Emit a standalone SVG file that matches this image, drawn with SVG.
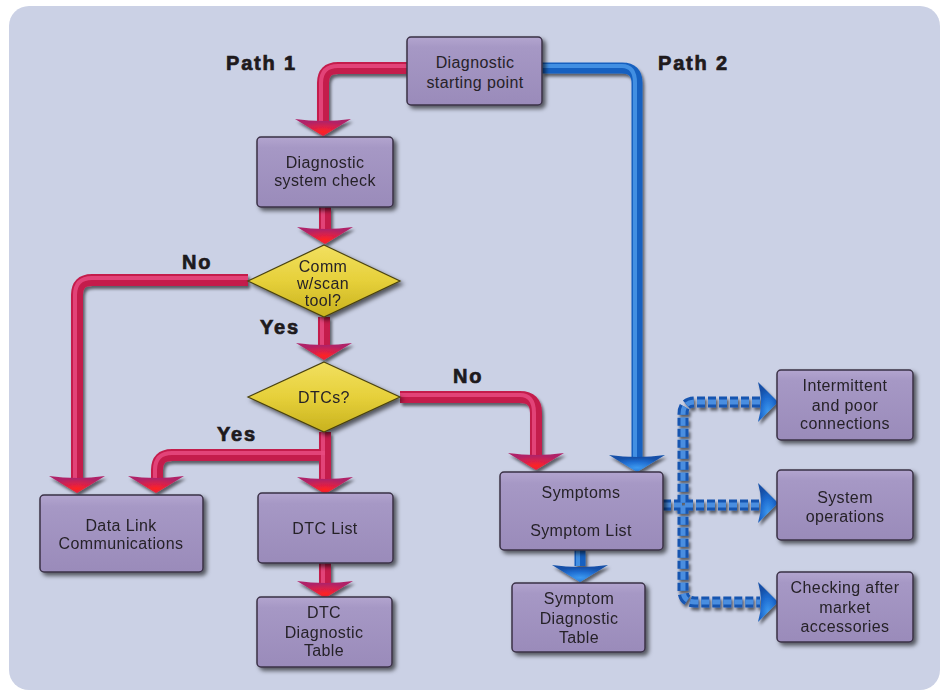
<svg xmlns="http://www.w3.org/2000/svg" xmlns:xlink="http://www.w3.org/1999/xlink" width="946" height="696" viewBox="0 0 946 696">
<style>
.box{fill:url(#boxG);stroke:#3a3146;stroke-width:1.5;filter:url(#sh)}
.dia{fill:url(#diaG);stroke:#4a4210;stroke-width:1.2;filter:url(#sh)}
.t{font-family:"Liberation Sans",Arial,sans-serif;font-size:16px;fill:#262228;text-anchor:middle;letter-spacing:0.4px}
.lb{font-family:"Liberation Sans",Arial,sans-serif;font-size:20px;font-weight:bold;fill:#1e1a1c;stroke:#1e1a1c;stroke-width:0.7;letter-spacing:1.8px}
.rp{fill:none;stroke:#c41c4c;stroke-width:12;stroke-linejoin:round}
.rpi{fill:none;stroke:#e84a80;stroke-width:4;stroke-linejoin:round;opacity:0.85}
.bp{fill:none;stroke:#1660c0;stroke-width:11;stroke-linejoin:round}
.bpi{fill:none;stroke:#4a98e8;stroke-width:4;stroke-linejoin:round;opacity:0.85}
.dp{fill:none;stroke:#1554b0;stroke-width:11;stroke-dasharray:8 3}
.dpi{fill:none;stroke:#4a8ee0;stroke-width:5;stroke-dasharray:8 3}
</style>
<defs>
<linearGradient id="boxG" x1="0" y1="0" x2="0" y2="1">
<stop offset="0" stop-color="#b3a5cf"/>
<stop offset="0.15" stop-color="#a698c5"/>
<stop offset="1" stop-color="#9a8bba"/>
</linearGradient>
<linearGradient id="diaG" x1="0" y1="0" x2="0" y2="1">
<stop offset="0" stop-color="#f2e060"/>
<stop offset="0.5" stop-color="#e6d03a"/>
<stop offset="1" stop-color="#c8b21e"/>
</linearGradient>
<radialGradient id="arR" cx="0.5" cy="0.75" r="0.6">
<stop offset="0" stop-color="#ff2222"/>
<stop offset="0.45" stop-color="#dc1f48"/>
<stop offset="1" stop-color="#b02468"/>
</radialGradient>
<radialGradient id="arB" cx="0.5" cy="0.75" r="0.6">
<stop offset="0" stop-color="#3d9af0"/>
<stop offset="0.6" stop-color="#1f6cd0"/>
<stop offset="1" stop-color="#1450a8"/>
</radialGradient>
<filter id="sh" x="-20%" y="-20%" width="150%" height="150%">
<feDropShadow dx="3" dy="3" stdDeviation="2" flood-color="#000" flood-opacity="0.6"/>
</filter>
<filter id="psh" x="-20%" y="-20%" width="150%" height="150%">
<feDropShadow dx="2" dy="3" stdDeviation="1.8" flood-color="#000" flood-opacity="0.55"/>
</filter>
<path id="ahR" d="M-28,-16 Q0,-12 28,-16 L0,1 Z" fill="url(#arR)"/>
<path id="ahB" d="M-28,-16 Q0,-12 28,-16 L0,1 Z" fill="url(#arB)"/>
<path id="ahD" d="M-19,-20 L1,0 L-19,20 Q-13,0 -19,-20 Z" fill="url(#arB)"/>
</defs>
<rect x="0" y="0" width="946" height="696" fill="#ffffff"/>
<rect x="9" y="6" width="931" height="684" rx="20" fill="#cbd1e5"/>

<text class="lb" x="226" y="70">Path 1</text>
<text class="lb" x="658" y="70">Path 2</text>
<text class="lb" x="182" y="269">No</text>
<text class="lb" x="260" y="334">Yes</text>
<text class="lb" x="217" y="441">Yes</text>
<text class="lb" x="453" y="383">No</text>

<g id="connectors">
<g filter="url(#psh)">
<path class="rp" d="M407,68 H338 Q323,68 323,83 V122"/>
<path class="rp" d="M325,207 V230"/>
<path class="rp" d="M324,317 V345"/>
<path class="rp" d="M248,280 H92 Q77,280 77,295 V478"/>
<path class="rp" d="M325,432 V479"/>
<path class="rp" d="M325,455 H172 Q157,455 157,470 V478"/>
<path class="rp" d="M400,397 H520 Q536,397 536,413 V455"/>
<path class="rp" d="M325,563 V583"/>
<path class="bp" d="M542,68 H622 Q637,68 637,83 V457"/>
<path class="bp" d="M580,550 V566"/>
<path class="dp" d="M663,505 H760"/>
<path class="dp" d="M760,402 H695 Q683,402 683,414 V590 Q683,602 695,602 H760"/>
</g>
<path class="rpi" d="M407,66 H338 Q321,66 321,83 V122"/>
<path class="rpi" d="M323,207 V230"/>
<path class="rpi" d="M322,317 V345"/>
<path class="rpi" d="M248,278 H92 Q75,278 75,295 V478"/>
<path class="rpi" d="M323,432 V479"/>
<path class="rpi" d="M325,453 H172 Q155,453 155,470 V478"/>
<path class="rpi" d="M400,395 H520 Q534,395 534,413 V455"/>
<path class="rpi" d="M323,563 V583"/>
<path class="bpi" d="M542,66 H622 Q635,66 635,83 V457"/>
<path class="bpi" d="M578,550 V566"/>
<path class="dpi" d="M663,505 H760"/>
<path class="dpi" d="M760,402 H695 Q683,402 683,414 V590 Q683,602 695,602 H760"/>
<g filter="url(#psh)">
<use xlink:href="#ahR" href="#ahR" x="323" y="135"/>
<use xlink:href="#ahR" href="#ahR" x="325" y="243"/>
<use xlink:href="#ahR" href="#ahR" x="324" y="359"/>
<use xlink:href="#ahR" href="#ahR" x="77" y="492"/>
<use xlink:href="#ahR" href="#ahR" x="156" y="492"/>
<use xlink:href="#ahR" href="#ahR" x="325" y="493"/>
<use xlink:href="#ahR" href="#ahR" x="536" y="469"/>
<use xlink:href="#ahR" href="#ahR" x="325" y="597"/>
<use xlink:href="#ahB" href="#ahB" x="637" y="471"/>
<use xlink:href="#ahB" href="#ahB" x="580" y="581"/>
<use xlink:href="#ahD" href="#ahD" x="777" y="402"/>
<use xlink:href="#ahD" href="#ahD" x="777" y="503"/>
<use xlink:href="#ahD" href="#ahD" x="777" y="602"/>
</g>
</g>

<g id="n-start"><rect class="box" x="407" y="37" width="135" height="68" rx="4"/>
<text class="t" x="475" y="68">Diagnostic</text><text class="t" x="475" y="88">starting point</text></g>
<g id="n-syscheck"><rect class="box" x="257" y="137" width="136" height="70" rx="4"/>
<text class="t" x="325" y="168">Diagnostic</text><text class="t" x="325" y="186">system check</text></g>
<g id="n-comm"><polygon class="dia" points="324,245 400,281 324,317 248,281"/>
<text class="t" x="323" y="272">Comm</text><text class="t" x="323" y="289">w/scan</text><text class="t" x="323" y="306">tool?</text></g>
<g id="n-dtcs"><polygon class="dia" points="324,362 400,397 324,432 248,397"/>
<text class="t" x="324" y="403">DTCs?</text></g>
<g id="n-datalink"><rect class="box" x="40" y="495" width="163" height="77" rx="4"/>
<text class="t" x="121" y="531">Data Link</text><text class="t" x="121" y="549">Communications</text></g>
<g id="n-dtclist"><rect class="box" x="258" y="493" width="135" height="70" rx="4"/>
<text class="t" x="325" y="534">DTC List</text></g>
<g id="n-dtctable"><rect class="box" x="257" y="597" width="135" height="70" rx="4"/>
<text class="t" x="324" y="618">DTC</text><text class="t" x="324" y="638">Diagnostic</text><text class="t" x="324" y="656">Table</text></g>
<g id="n-symptoms"><rect class="box" x="500" y="472" width="163" height="78" rx="4"/>
<text class="t" x="581" y="498">Symptoms</text><text class="t" x="581" y="536">Symptom List</text></g>
<g id="n-symtable"><rect class="box" x="512" y="583" width="133" height="69" rx="4"/>
<text class="t" x="579" y="604">Symptom</text><text class="t" x="579" y="624">Diagnostic</text><text class="t" x="579" y="643">Table</text></g>
<g id="n-intermittent"><rect class="box" x="777" y="370" width="136" height="70" rx="4"/>
<text class="t" x="845" y="391">Intermittent</text><text class="t" x="845" y="411">and poor</text><text class="t" x="845" y="429">connections</text></g>
<g id="n-sysops"><rect class="box" x="777" y="470" width="136" height="70" rx="4"/>
<text class="t" x="845" y="503">System</text><text class="t" x="845" y="522">operations</text></g>
<g id="n-checking"><rect class="box" x="777" y="572" width="136" height="70" rx="4"/>
<text class="t" x="845" y="593">Checking after</text><text class="t" x="845" y="613">market</text><text class="t" x="845" y="632">accessories</text></g>
</svg>
